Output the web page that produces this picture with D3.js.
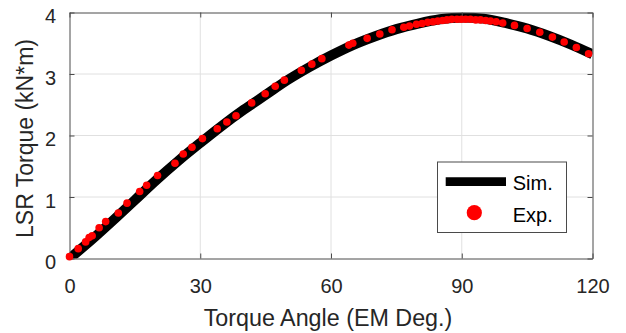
<!DOCTYPE html>
<html>
<head>
<meta charset="utf-8">
<script src="https://cdn.jsdelivr.net/npm/d3@7"></script>
<style>
  html, body { margin: 0; padding: 0; background: #fff; }
  svg { display: block; font-family: "Liberation Sans", Arial, Helvetica, sans-serif; }
</style>
</head>
<body>
<svg id="chart" width="626" height="333"></svg>
<script>
// ---- data ----
const simAngle = [0, 5, 10, 15, 20, 25, 30, 35, 40, 45, 50, 55, 60, 65, 70, 75, 80, 85, 90, 95, 100, 105, 110, 115, 120];
const simTorque = [0, 0.30, 0.62, 0.95, 1.28, 1.59, 1.88, 2.16, 2.42, 2.66, 2.90, 3.11, 3.30, 3.47, 3.61, 3.73, 3.82, 3.89, 3.92, 3.90, 3.83, 3.74, 3.62, 3.48, 3.32];

const expAngle = [0.0, 2.0, 3.7, 4.5, 5.2, 6.8, 8.3, 11.2, 13.2, 16.1, 17.7, 20.2, 24.2, 26.1, 28.1, 30.5, 33.9, 36.1, 38.2, 41.8, 44.9, 47.2, 49.3, 53.2, 55.6, 57.9, 64.1, 65.0, 68.3, 71.2, 74.0, 76.7, 78.0, 79.6, 80.9, 82.2, 83.4, 84.5, 85.6, 86.6, 87.7, 88.9, 89.9, 90.9, 92.0, 93.2, 94.3, 95.5, 96.6, 97.9, 99.4, 102.1, 105.0, 107.9, 110.8, 113.5, 116.3, 119.1];
const expTorque = [0.03, 0.16, 0.27, 0.34, 0.37, 0.50, 0.60, 0.74, 0.90, 1.09, 1.19, 1.35, 1.55, 1.70, 1.81, 1.95, 2.11, 2.22, 2.32, 2.53, 2.68, 2.80, 2.90, 3.06, 3.16, 3.25, 3.47, 3.50, 3.58, 3.65, 3.72, 3.76, 3.78, 3.81, 3.82, 3.84, 3.85, 3.86, 3.87, 3.88, 3.89, 3.89, 3.89, 3.89, 3.89, 3.88, 3.88, 3.87, 3.86, 3.85, 3.83, 3.79, 3.74, 3.68, 3.60, 3.52, 3.43, 3.33];

const xTicks = [0, 30, 60, 90, 120];
const yTicks = [0, 1, 2, 3, 4];
const xLabel = "Torque Angle (EM Deg.)";
const yLabel = "LSR Torque (kN*m)";
const legendLabels = ["Sim.", "Exp."];

// ---- layout ----
const L = 69.5, R = 592.5, T = 12.5, B = 258.5;
const textColor = "#262626";
const svg = d3.select("#chart");

const x = d3.scaleLinear().domain([0, 120]).range([L, R]);
const y = d3.scaleLinear().domain([0, 4]).range([B, T]);

// grid
const grid = svg.append("g");
grid.selectAll("line.gx").data(xTicks.slice(1, -1)).join("line")
  .attr("x1", d => x(d)).attr("x2", d => x(d)).attr("y1", T).attr("y2", B)
  .attr("stroke", "#e0e0e0").attr("stroke-width", 1);
grid.selectAll("line.gy").data(yTicks.slice(1, -1)).join("line")
  .attr("x1", L).attr("x2", R).attr("y1", d => y(d)).attr("y2", d => y(d))
  .attr("stroke", "#e0e0e0").attr("stroke-width", 1);

// clip for line
svg.append("clipPath").attr("id", "clip").append("rect")
  .attr("x", L).attr("y", T).attr("width", R - L).attr("height", B - T);

const simData = simAngle.map((a, i) => [a, simTorque[i]]);
const expData = expAngle.map((a, i) => [a, expTorque[i]]);

const line = d3.line().x(d => x(d[0])).y(d => y(d[1])).curve(d3.curveMonotoneX);
svg.append("path").datum(simData)
  .attr("clip-path", "url(#clip)")
  .attr("d", line).attr("fill", "none").attr("stroke", "#000")
  .attr("stroke-width", 10).attr("stroke-linejoin", "round");

// axes
function styleAxis(g) {
  g.selectAll("path.domain").attr("stroke", "#4a4a4a").attr("stroke-width", 1);
  g.selectAll(".tick line").attr("stroke", "#4a4a4a").attr("stroke-width", 1);
  g.selectAll("text").attr("fill", textColor).attr("font-size", 20)
    .attr("font-family", "Liberation Sans, Arial, sans-serif");
}
const gx = svg.append("g").attr("transform", `translate(0,${B})`)
  .call(d3.axisBottom(x).tickValues(xTicks).tickSize(-5).tickSizeOuter(0).tickPadding(20.3).tickFormat(d3.format("d")));
styleAxis(gx);
const gy = svg.append("g").attr("transform", `translate(${L},0)`)
  .call(d3.axisLeft(y).tickValues(yTicks).tickSize(-5).tickSizeOuter(0).tickPadding(13.5).tickFormat(d3.format("d")));
styleAxis(gy);
gy.selectAll("text").attr("dy", "0.5em");
const gt = svg.append("g").attr("transform", `translate(0,${T})`)
  .call(d3.axisTop(x).tickValues(xTicks).tickSize(-5).tickSizeOuter(0).tickFormat(""));
styleAxis(gt);
const gr = svg.append("g").attr("transform", `translate(${R},0)`)
  .call(d3.axisRight(y).tickValues(yTicks).tickSize(-5).tickSizeOuter(0).tickFormat(""));
styleAxis(gr);

// exp dots
svg.append("g").selectAll("circle").data(expData).join("circle")
  .attr("cx", d => x(d[0])).attr("cy", d => y(d[1])).attr("r", 3.8)
  .attr("fill", "#ff0000");

// axis titles
svg.append("text").attr("x", 328).attr("y", 326)
  .attr("text-anchor", "middle").attr("font-size", 23.3).attr("fill", textColor)
  .text(xLabel);
svg.append("text").attr("transform", "translate(33,138.5) rotate(-90)")
  .attr("text-anchor", "middle").attr("font-size", 23).attr("fill", textColor)
  .text(yLabel);

// legend
const lg = svg.append("g");
lg.append("rect").attr("x", 437.5).attr("y", 162).attr("width", 129).attr("height", 70.5)
  .attr("fill", "#fff").attr("stroke", "#4a4a4a").attr("stroke-width", 1);
lg.append("line").attr("x1", 445.7).attr("x2", 506).attr("y1", 181.7).attr("y2", 181.7)
  .attr("stroke", "#000").attr("stroke-width", 8.7);
lg.append("circle").attr("cx", 474.3).attr("cy", 212.7).attr("r", 7.6).attr("fill", "#ff0000");
lg.append("text").attr("x", 512.7).attr("y", 190.3).attr("font-size", 20).attr("fill", "#000").text(legendLabels[0]);
lg.append("text").attr("x", 512.7).attr("y", 221.7).attr("font-size", 20).attr("fill", "#000").text(legendLabels[1]);
</script>
</body>
</html>
